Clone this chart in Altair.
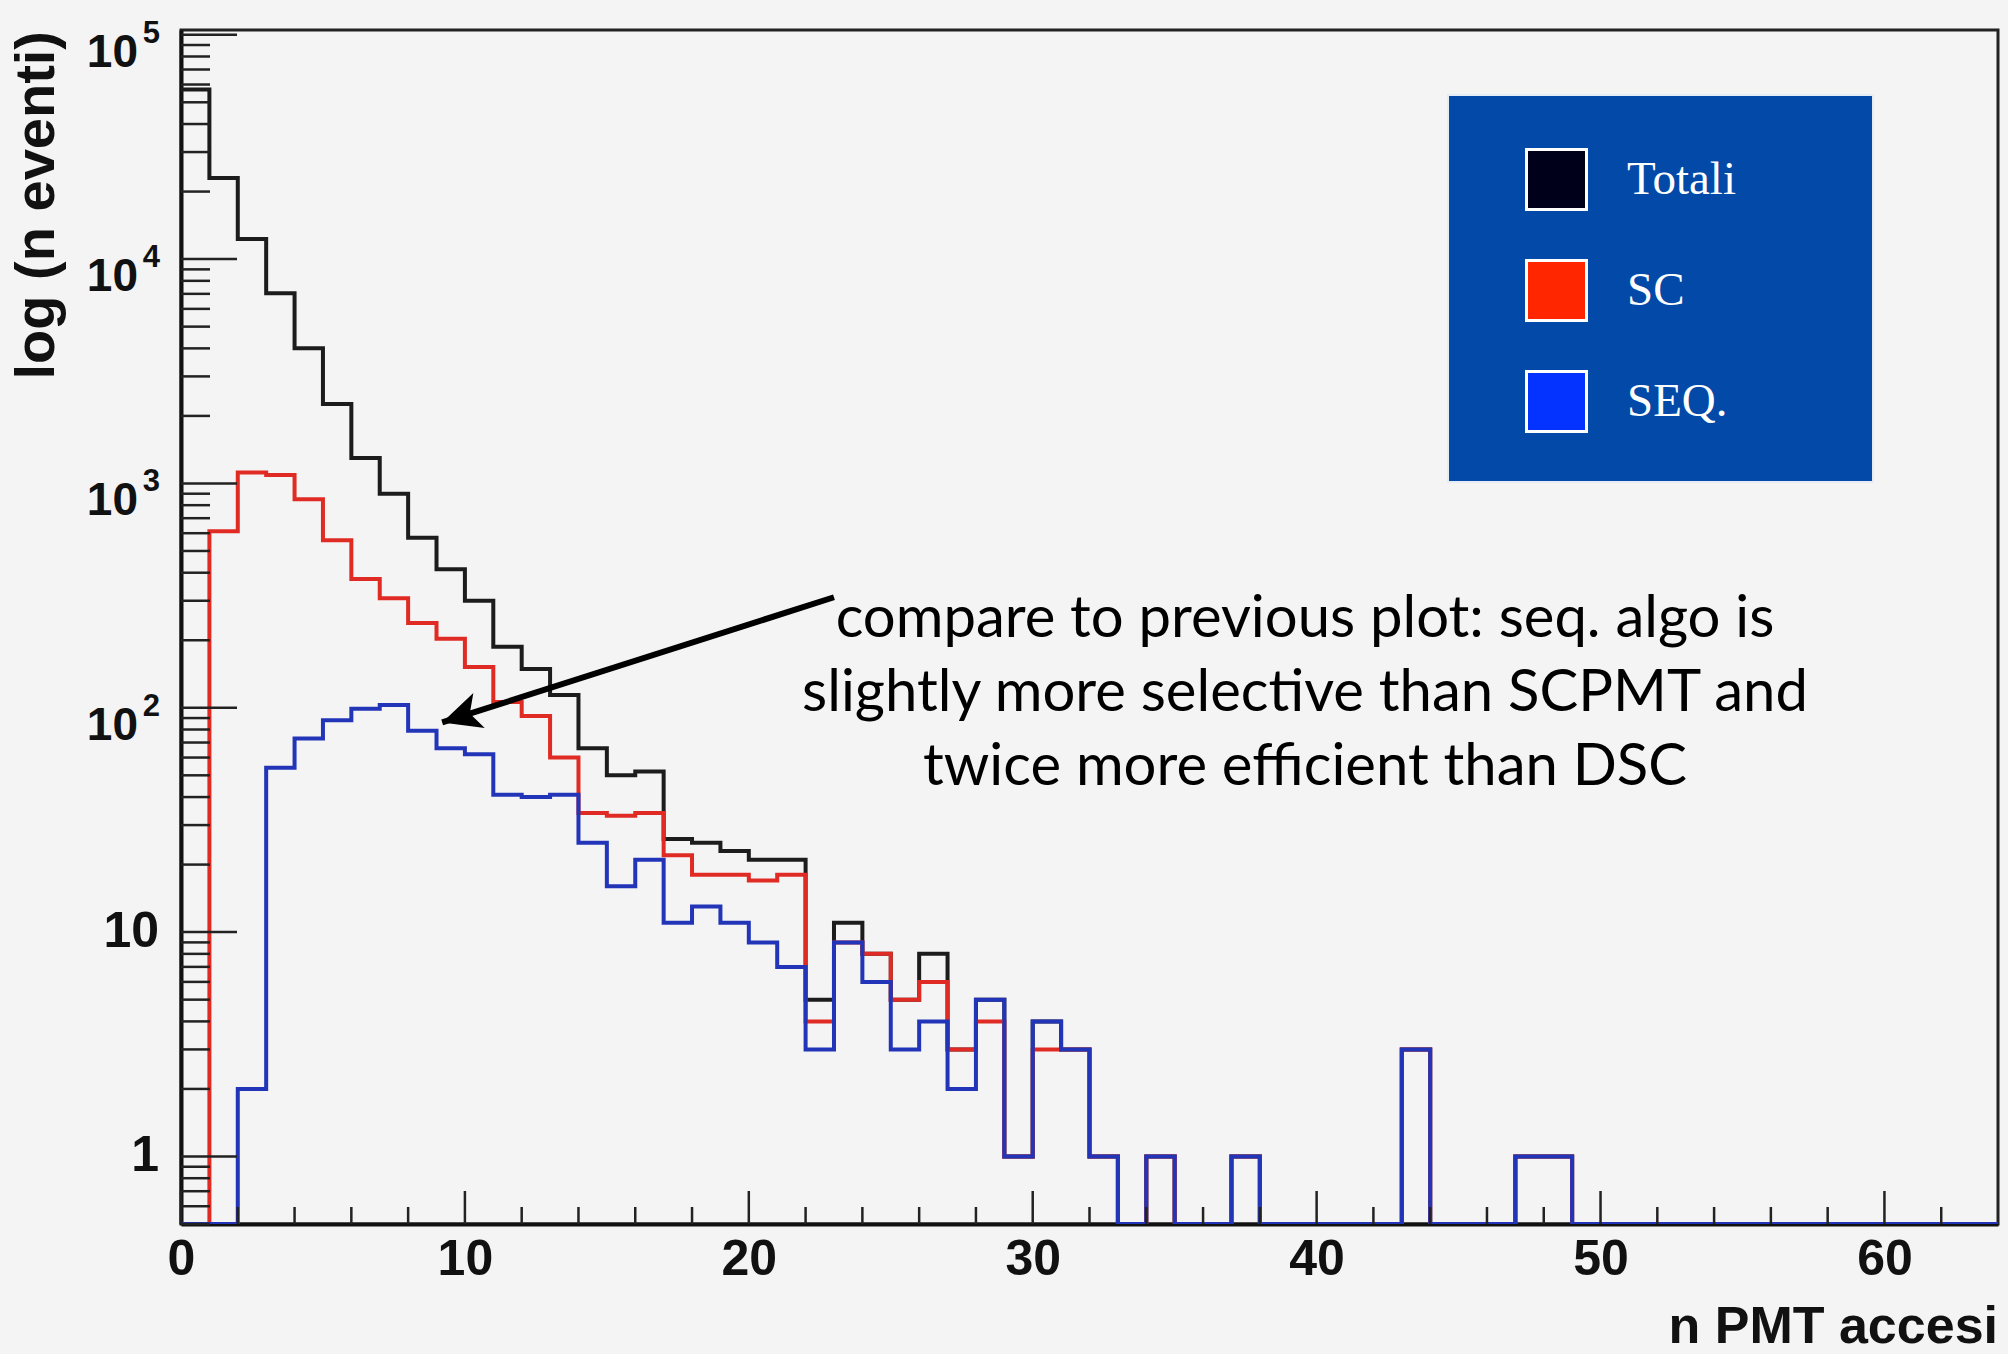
import altair as alt
import pandas as pd

# ---------------- data ----------------
bin_edges = [0, 1, 2, 3, 4, 5, 6, 7, 8, 9, 10, 11, 12, 13, 14, 15, 16, 17, 18, 19,
             20, 21, 22, 23, 24, 25, 26, 27, 28, 29, 30, 31, 32, 33, 34, 35, 36, 37, 38, 39,
             40, 41, 42, 43, 44, 45, 46, 47, 48, 49, 50, 51, 52, 53, 54, 55, 56, 57, 58, 59,
             60, 61, 62, 63]

totali = [57000, 23000, 12300, 7050, 4010, 2260, 1300, 900, 572, 415,
          300, 187, 149, 114, 66, 50, 52, 26, 25, 23,
          21, 21, 5, 11, 8, 5, 8, 3, 5, 1,
          4, 3, 1, 0, 1, 0, 0, 1, 0, 0,
          0, 0, 0, 3, 0, 0, 0, 1, 1, 0,
          0, 0, 0, 0, 0, 0, 0, 0, 0, 0,
          0, 0, 0, 0]

sc = [0, 612, 1120, 1090, 850, 558, 375, 308, 239, 203,
      152, 106, 92, 60, 34, 33, 34, 22, 18, 18,
      17, 18, 4, 9, 8, 5, 6, 3, 4, 1,
      3, 3, 1, 0, 1, 0, 0, 1, 0, 0,
      0, 0, 0, 3, 0, 0, 0, 1, 1, 0,
      0, 0, 0, 0, 0, 0, 0, 0, 0, 0,
      0, 0, 0, 0]

seq = [0, 0, 2, 54, 73, 88, 99, 103, 79, 66,
       62, 41, 40, 41, 25, 16, 21, 11, 13, 11,
       9, 7, 3, 9, 6, 3, 4, 2, 5, 1,
       4, 3, 1, 0, 1, 0, 0, 1, 0, 0,
       0, 0, 0, 3, 0, 0, 0, 1, 1, 0,
       0, 0, 0, 0, 0, 0, 0, 0, 0, 0,
       0, 0, 0, 0]

series_names = ["Totali", "SC", "SEQ."]
line_colors = ["#1c1c1c", "#e02b24", "#2234b8"]
swatch_colors = ["#00001a", "#ff2600", "#0433ff"]

x_major = [0, 10, 20, 30, 40, 50, 60]
x_minor = [2, 4, 6, 8, 12, 14, 16, 18, 22, 24, 26, 28, 32, 34, 36, 38,
           42, 44, 46, 48, 52, 54, 56, 58, 62]
y_major = [1, 10, 100, 1000, 10000, 100000]
y_minor = [m * d for d in [0.1, 1, 10, 100, 1000, 10000] for m in [2, 3, 4, 5, 6, 7, 8, 9]
           if 0.5 <= m * d <= 100000]
y_plain_labels = ["1", "10"]
y_pow_exponents = ["2", "3", "4", "5"]

x_title = "n PMT accesi"
y_title = "log (n eventi)"
note_lines = ["compare to previous plot: seq. algo is",
              "slightly more selective than SCPMT and",
              "twice more efficient than DSC"]
arrow_tail = (23.0, 311.0)
arrow_tip = (9.2, 86.0)

# ---------------- layout ----------------
W, H = 1817, 1194
Y_MIN, Y_MAX = 0.5, 105000
AXIS_FONT = "Liberation Sans"

xscale = alt.Scale(domain=[0, 64], nice=False, zero=False)
yscale = alt.Scale(type="log", domain=[Y_MIN, Y_MAX], nice=False)

x_axis = alt.Axis(values=x_major, ticks=False, grid=False, title=None,
                  labelFont=AXIS_FONT, labelFontWeight="bold", labelFontSize=50,
                  labelColor="#111111", labelPadding=10, labelFlush=False,
                  domainColor="#111111", domainWidth=4, format="d")
y_axis = alt.Axis(labels=False, ticks=False, grid=False, title=None,
                  domainColor="#111111", domainWidth=4)


def X(field):
    return alt.X(field, scale=xscale, axis=x_axis, title=None)


def Y(field):
    return alt.Y(field, scale=yscale, axis=y_axis, title=None)


rows = []
last_edge = bin_edges[-1] + 1
for name, vals in zip(series_names, [totali, sc, seq]):
    for e, v in zip(bin_edges + [last_edge], vals + [vals[-1]]):
        rows.append({"x": e, "v": v, "serie": name})
hist = pd.DataFrame(rows)


def line_layer(i):
    name = series_names[i]
    return (alt.Chart(hist)
            .transform_filter(alt.datum.serie == name)
            .transform_calculate(yv=f"max(datum.v, {Y_MIN})")
            .mark_line(interpolate="step-after", strokeWidth=4, color=line_colors[i],
                       clip=True, strokeJoin="miter")
            .encode(x=X("x:Q"), y=Y("yv:Q"), order="x:Q"))


one = pd.DataFrame({"k": [0]})

# legend background box
legend_box = alt.Chart(one).mark_rect(fill="#0349a8", stroke="#e6ecf5", strokeWidth=2).encode(
    x=alt.value(1267), x2=alt.value(1692), y=alt.value(65), y2=alt.value(452))

# inward ticks
TICK = dict(color="#222222", strokeWidth=2.5)
ytick_major = alt.Chart(pd.DataFrame({"t": y_major})).mark_rule(**TICK).encode(
    y=Y("t:Q"), x=alt.value(0), x2=alt.value(56))
ytick_minor = alt.Chart(pd.DataFrame({"t": y_minor})).mark_rule(**TICK).encode(
    y=Y("t:Q"), x=alt.value(0), x2=alt.value(29))
xtick_major = alt.Chart(pd.DataFrame({"t": x_major})).mark_rule(**TICK).encode(
    x=X("t:Q"), y=alt.value(H), y2=alt.value(H - 33))
xtick_minor = alt.Chart(pd.DataFrame({"t": x_minor})).mark_rule(**TICK).encode(
    x=X("t:Q"), y=alt.value(H), y2=alt.value(H - 17))

# y labels
ylab_plain = alt.Chart(pd.DataFrame({"t": y_major[:2], "s": y_plain_labels})).mark_text(
    align="right", baseline="middle", font=AXIS_FONT, fontWeight="bold", fontSize=50,
    color="#111111").encode(y=Y("t:Q"), x=alt.value(-22), text="s:N")
ylab_base = alt.Chart(pd.DataFrame({"t": y_major[2:], "s": ["10"] * 4})).mark_text(
    align="right", baseline="middle", font=AXIS_FONT, fontWeight="bold", fontSize=46,
    color="#111111", dy=18).encode(y=Y("t:Q"), x=alt.value(-43), text="s:N")
ylab_exp = alt.Chart(pd.DataFrame({"t": y_major[2:], "s": y_pow_exponents})).mark_text(
    align="right", baseline="middle", font=AXIS_FONT, fontWeight="bold", fontSize=31,
    color="#111111", dy=-1).encode(y=Y("t:Q"), x=alt.value(-21), text="s:N")

# titles
xtitle = alt.Chart(pd.DataFrame({"s": [x_title]})).mark_text(
    align="right", baseline="alphabetic", font=AXIS_FONT, fontWeight="bold", fontSize=52,
    color="#111111").encode(x=alt.value(W), y=alt.value(H + 119), text="s:N")
ytitle = alt.Chart(pd.DataFrame({"s": [y_title]})).mark_text(
    align="right", baseline="alphabetic", font=AXIS_FONT, fontWeight="bold", fontSize=56,
    color="#111111", angle=270).encode(x=alt.value(-127), y=alt.value(1), text="s:N")

# annotation
note = alt.Chart(one).mark_text(
    align="center", baseline="alphabetic", font="Lato", fontSize=58, lineHeight=74,
    color="#000000").encode(x=alt.value(1124), y=alt.value(607), text=alt.value(note_lines))

arrow_df = pd.DataFrame({"x": [arrow_tail[0]], "y": [arrow_tail[1]],
                         "x2": [arrow_tip[0]], "y2": [arrow_tip[1]]})
arrow_line = alt.Chart(arrow_df).mark_rule(color="#000000", strokeWidth=6).encode(
    x=X("x:Q"), x2="x2:Q", y=Y("y:Q"), y2="y2:Q")
arrow_head = alt.Chart(arrow_df).mark_point(
    shape="M0,0 L-0.95,2 L0,1.5 L0.95,2 Z", filled=True, color="#000000", opacity=1,
    size=1500, angle=252).encode(x=X("x2:Q"), y=Y("y2:Q"))

# legend (native, fill channel)
legend_layer = alt.Chart(pd.DataFrame({"serie": series_names})).transform_filter("false").mark_point(
    filled=True, shape="square").encode(
    fill=alt.Fill("serie:N", scale=alt.Scale(domain=series_names, range=swatch_colors),
                  legend=alt.Legend(title=None, orient="none", legendX=1344, legendY=118,
                                    symbolType="square", symbolSize=3600,
                                    symbolStrokeColor="white", symbolStrokeWidth=3,
                                    symbolOpacity=1,
                                    labelFont="Liberation Serif", labelFontSize=47,
                                    labelColor="white", labelOffset=39, rowPadding=38,
                                    padding=0)))

chart = alt.layer(
    legend_box,
    line_layer(0), line_layer(1), line_layer(2),
    ytick_major, ytick_minor, xtick_major, xtick_minor,
    ylab_plain, ylab_base, ylab_exp, xtitle, ytitle,
    note, arrow_line, arrow_head, legend_layer,
).properties(
    width=W, height=H,
    padding={"left": 181, "top": 30, "right": 10, "bottom": 130},
    autosize=alt.AutoSizeParams(type="none"),
    background="#f4f4f4",
).configure_view(stroke="#222222", strokeWidth=3)

chart.save("out.html", embed_options={"renderer": "svg", "actions": False})
